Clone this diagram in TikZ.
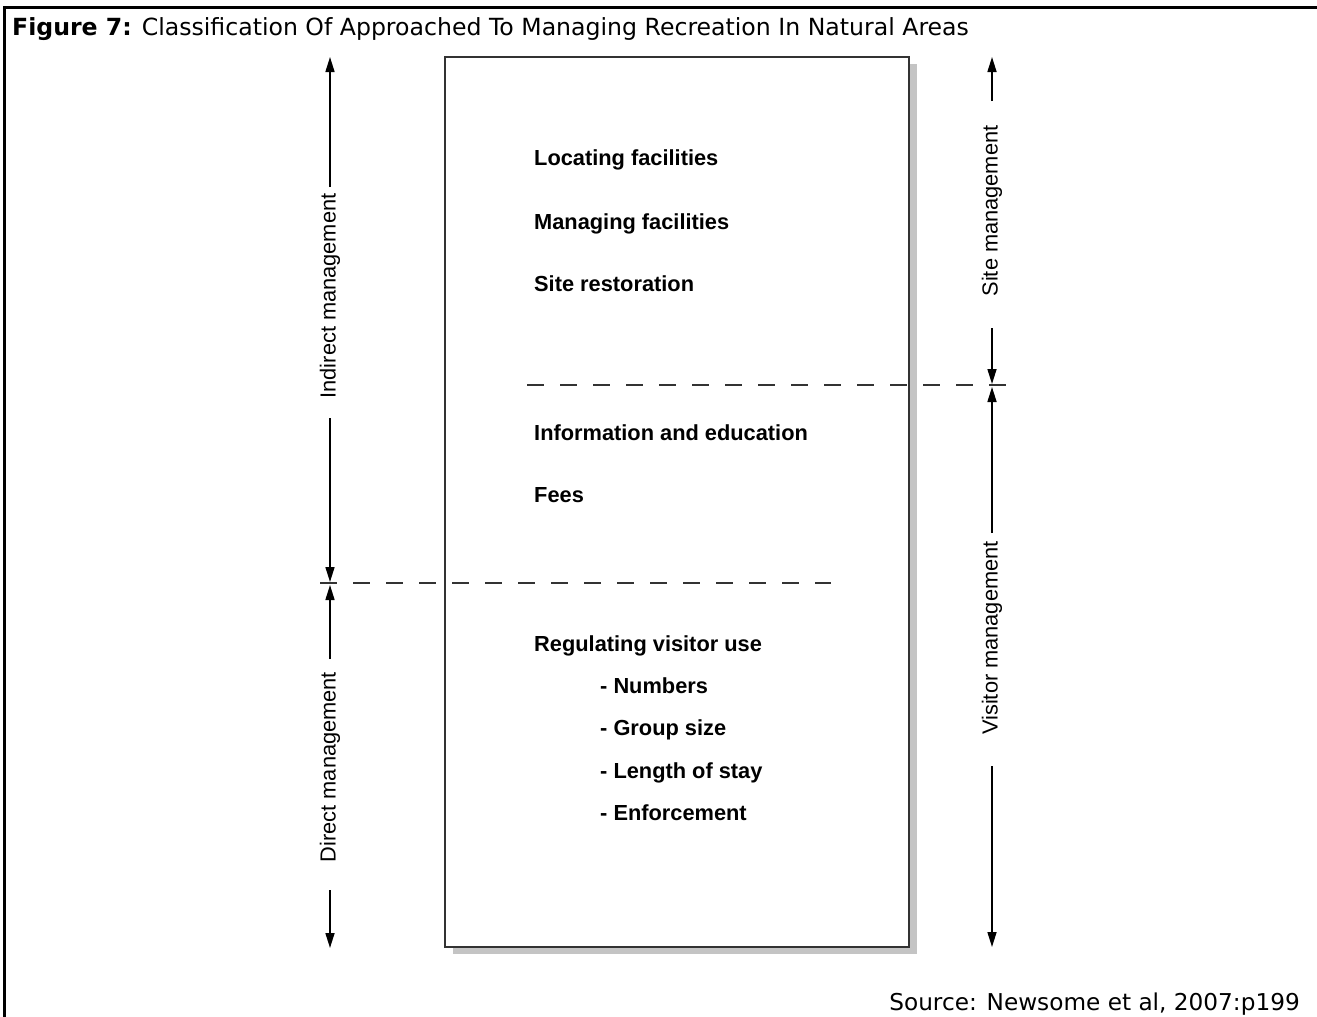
\documentclass[tikz,border=0pt]{standalone}
\usepackage{fontspec}
\setmainfont{Liberation Sans}
\newfontfamily\tahoma{DejaVu Sans}
\usetikzlibrary{arrows.meta,backgrounds}
\definecolor{boxline}{HTML}{333333}
\definecolor{shadowgray}{HTML}{C4C4C4}
\begin{document}
\begin{tikzpicture}[x=1pt,y=-1pt,
  item/.style={anchor=base west, inner sep=0pt, font=\fontsize{21.8}{26}\selectfont\bfseries},
  side/.style={rotate=90, inner sep=0pt, font=\fontsize{21.8}{26}\selectfont},
  arr/.style={line width=1.6pt, draw=black, -{Triangle[length=15pt,width=9pt]}},
  dashline/.style={draw=boxline, line width=2pt, dash pattern=on 16.5pt off 16.5pt},
  frame/.style={line width=3pt, draw=black}]
\useasboundingbox (0,0) rectangle (1317,1017);
% outer frame
\coordinate (fbl) at (4,1017);
\coordinate (ftl) at (4,7);
\coordinate (ftr) at (1317,7);
\draw[frame] (fbl) -- (ftl) -- (ftr);
% title
\node[anchor=base west, inner sep=0pt, font=\tahoma\fontsize{23.6}{26}\selectfont] (title) at (12,35)
  {\textbf{Figure 7:} Classification Of Approached To Managing Recreation In Natural Areas};
% main box
\node[draw=boxline, line width=2pt, fill=white, minimum width=464pt, minimum height=890pt,
      inner sep=0pt, outer sep=0pt, anchor=north west] (box) at (445,57) {};
\begin{scope}[on background layer]
  \fill[shadowgray] ([shift={(8pt,-7pt)}]box.south west) rectangle ([shift={(8pt,-7pt)}]box.north east);
\end{scope}
% dashed separators
\coordinate (da1) at (527,385);
\coordinate (da2) at (1008,385);
\coordinate (db1) at (320,583);
\coordinate (db2) at (831,583);
\draw[dashline] (da1) -- (da2);
\draw[dashline] (db1) -- (db2);
% items
\node[item] (loc) at (534,165) {Locating facilities};
\node[item] (man) at (534,229) {Managing facilities};
\node[item] (res) at (534,291) {Site restoration};
\node[item] (inf) at (534,440) {Information and education};
\node[item] (fee) at (534,502) {Fees};
\node[item] (reg) at (534,651) {Regulating visitor use};
\node[item] (num) at (600,693) {- Numbers};
\node[item] (grp) at (600,735) {- Group size};
\node[item] (len) at (600,778) {- Length of stay};
\node[item] (enf) at (600,820) {- Enforcement};
% left labels
\node[side] (ind) at (330,296) {Indirect management};
\node[side] (dir) at (330,767) {Direct management};
\coordinate (indA) at (330,187);
\coordinate (indT) at (330,57);
\coordinate (indB) at (330,418);
\coordinate (indD) at (330,582);
\coordinate (dirA) at (330,659);
\coordinate (dirT) at (330,585);
\coordinate (dirB) at (330,890);
\coordinate (dirD) at (330,948);
\draw[arr] (indA) -- (indT);
\draw[arr] (indB) -- (indD);
\draw[arr] (dirA) -- (dirT);
\draw[arr] (dirB) -- (dirD);
% right labels
\node[side] (sit) at (992,211) {Site management};
\node[side] (vis) at (992,638) {Visitor management};
\coordinate (sitA) at (992,101);
\coordinate (sitT) at (992,57);
\coordinate (sitB) at (992,328);
\coordinate (sitD) at (992,384);
\coordinate (visA) at (992,533);
\coordinate (visT) at (992,387);
\coordinate (visB) at (992,766);
\coordinate (visD) at (992,947);
\draw[arr] (sitA) -- (sitT);
\draw[arr] (sitB) -- (sitD);
\draw[arr] (visA) -- (visT);
\draw[arr] (visB) -- (visD);
% source
\node[anchor=base east, inner sep=0pt, font=\tahoma\fontsize{23.2}{26}\selectfont] (src) at (1300,1010)
  {Source: Newsome et al, 2007:p199};
\end{tikzpicture}
\end{document}
